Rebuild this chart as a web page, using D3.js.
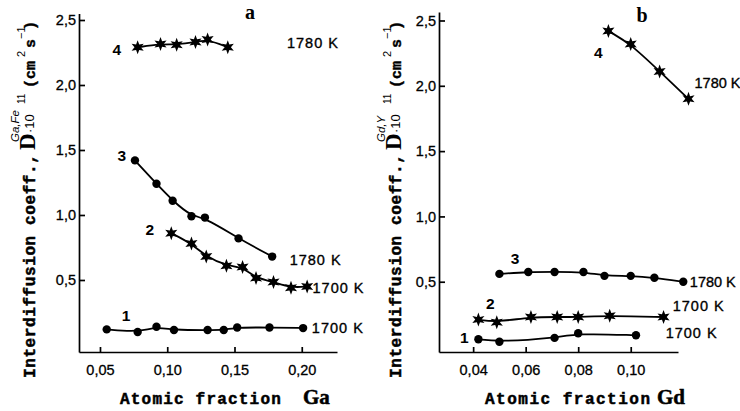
<!DOCTYPE html>
<html>
<head>
<meta charset="utf-8">
<script src="https://cdn.jsdelivr.net/npm/d3@7"></script>
<style>
  body { margin: 0; background: #fff; }
</style>
</head>
<body>
<div id="chart"></div>
<script>
// panel a: Ga in Fe (x = atomic fraction Ga)
const a1x = [0.055, 0.078, 0.092, 0.105, 0.130, 0.142, 0.152, 0.176, 0.201];
const a1y = [0.12, 0.10, 0.14, 0.115, 0.115, 0.115, 0.135, 0.135, 0.13];
const a2x = [0.103, 0.118, 0.129, 0.144, 0.156, 0.166, 0.179, 0.192, 0.204];
const a2y = [0.86, 0.78, 0.68, 0.61, 0.60, 0.515, 0.485, 0.44, 0.45];
const a3x = [0.076, 0.092, 0.104, 0.118, 0.128, 0.153, 0.178];
const a3y = [1.42, 1.24, 1.11, 0.99, 0.98, 0.82, 0.68];
const a4x = [0.078, 0.095, 0.107, 0.121, 0.130, 0.145];
const a4y = [2.29, 2.315, 2.31, 2.33, 2.35, 2.29];

// panel b: Gd in Y (x = atomic fraction Gd)
const b1x = [0.042, 0.050, 0.071, 0.080, 0.102];
const b1y = [0.06, 0.04, 0.07, 0.105, 0.09];
const b2x = [0.042, 0.049, 0.062, 0.072, 0.080, 0.092, 0.1125];
const b2y = [0.21, 0.19, 0.23, 0.23, 0.23, 0.24, 0.23];
const b3x = [0.050, 0.061, 0.071, 0.082, 0.090, 0.100, 0.109, 0.120];
const b3y = [0.56, 0.575, 0.575, 0.575, 0.545, 0.545, 0.53, 0.50];
const b4x = [0.0915, 0.100, 0.111, 0.122];
const b4y = [2.42, 2.32, 2.11, 1.90];

// tick values
const yTicks = [0.5, 1.0, 1.5, 2.0, 2.5];
const aTicks = [0.05, 0.10, 0.15, 0.20];
const bTicks = [0.04, 0.06, 0.08, 0.10];

const width = 740, height = 411;

const svg = d3.select("#chart").append("svg")
    .attr("width", width)
    .attr("height", height)
    .attr("viewBox", [0, 0, width, height]);

// 6-point star marker, size = outer radius
const star6 = {
  draw(ctx, R) {
    const r = R * 0.45;
    for (let i = 0; i < 12; i++) {
      const ang = i * Math.PI / 6 - Math.PI / 2;
      const rr = i % 2 ? r : R;
      const px = rr * Math.cos(ang), py = rr * Math.sin(ang);
      if (i === 0) ctx.moveTo(px, py); else ctx.lineTo(px, py);
    }
    ctx.closePath();
  }
};

const zip = (xs, ys) => xs.map((v, i) => [v, ys[i]]);
const fmt = f => d => d3.format(f)(d).replace(".", ",");

const panels = [
  {
    xDomain: [0.0344, 0.2262], xRange: [79, 337],
    yDomain: [-0.054, 2.55], yRange: [352, 13.5],
    xTicks: aTicks, xFmt: fmt(".2f"),
    titleX: 35, sup: "Ga,Fe", elem: "Ga", atomX: 120, elemX: 303, atomLs: 1.2,
    letter: "a", letterPos: [250, 19],
    series: [
      { pts: zip(a1x, a1y), mark: "circle", num: "1", numAt: [0.0693, 0.23], temp: "1700 K", tempAt: [0.2075, 0.13], ls: 1 },
      { pts: zip(a2x, a2y), mark: "star", num: "2", numAt: [0.0871, 0.885], temp: "1700 K", tempAt: [0.208, 0.44], ls: 1 },
      { pts: zip(a3x, a3y), mark: "circle", num: "3", numAt: [0.0663, 1.46], temp: "1780 K", tempAt: [0.191, 0.654], ls: 1 },
      { pts: zip(a4x, a4y), mark: "star", num: "4", numAt: [0.0626, 2.27], temp: "1780 K", tempAt: [0.189, 2.32], ls: 1 }
    ]
  },
  {
    xDomain: [0.027, 0.118], xRange: [439, 678],
    yDomain: [-0.038, 2.565], yRange: [352, 12],
    xTicks: bTicks, xFmt: fmt(".2f"),
    titleX: 401, sup: "Gd,Y", elem: "Gd", atomX: 485, elemX: 657, atomLs: 1.5,
    letter: "b", letterPos: [642, 22],
    series: [
      { pts: zip(b1x, b1y), mark: "circle", num: "1", numAt: [0.0366, 0.076], temp: "1700 K", tempAt: [0.1133, 0.107], ls: 1 },
      { pts: zip(b2x, b2y), mark: "star", num: "2", numAt: [0.0465, 0.336], temp: "1700 K", tempAt: [0.116, 0.313], ls: 1 },
      { pts: zip(b3x, b3y), mark: "circle", num: "3", numAt: [0.056, 0.68], temp: "1780 K", tempAt: [0.1225, 0.497], ls: 0 },
      { pts: zip(b4x, b4y), mark: "star", num: "4", numAt: [0.0877, 2.255], temp: "1780 K", tempAt: [0.1243, 2.02], ls: 0 }
    ]
  }
];

panels.forEach(p => {
  const x = d3.scaleLinear(p.xDomain, p.xRange);
  const y = d3.scaleLinear(p.yDomain, p.yRange);
  const g = svg.append("g");

  // axes, ticks pointing inward
  g.append("g")
      .attr("transform", `translate(0,${p.yRange[0]})`)
      .call(d3.axisBottom(x).tickValues(p.xTicks).tickFormat(p.xFmt)
          .tickSizeInner(-5).tickSizeOuter(0).tickPadding(13))
      .call(ax => ax.selectAll("text")
          .attr("font-family", "Liberation Sans").attr("font-size", 14.5)
          .attr("fill", "#000").attr("stroke", "#000").attr("stroke-width", 0.3));

  g.append("g")
      .attr("transform", `translate(${p.xRange[0]},0)`)
      .call(d3.axisLeft(y).tickValues(yTicks).tickFormat(fmt(".1f"))
          .tickSizeInner(-6).tickSizeOuter(0).tickPadding(3))
      .call(ax => ax.selectAll("text")
          .attr("font-family", "Liberation Sans").attr("font-size", 14.5)
          .attr("fill", "#000").attr("stroke", "#000").attr("stroke-width", 0.3));

  g.selectAll(".domain, .tick line").attr("stroke", "#000").attr("stroke-width", 1.7);

  // lines + markers
  const line = d3.line().x(d => x(d[0])).y(d => y(d[1])).curve(d3.curveBasis);
  p.series.forEach(s => {
    g.append("path")
        .attr("fill", "none")
        .attr("stroke", "#000")
        .attr("stroke-width", 1.8)
        .attr("d", line(s.pts));

    if (s.mark === "circle") {
      g.selectAll(null).data(s.pts).join("circle")
          .attr("cx", d => x(d[0])).attr("cy", d => y(d[1]))
          .attr("r", 4.2).attr("fill", "#000");
    } else {
      g.selectAll(null).data(s.pts).join("path")
          .attr("transform", d => `translate(${x(d[0])},${y(d[1])})`)
          .attr("d", d3.symbol().type(star6).size(7))
          .attr("fill", "#000");
    }

    g.append("text")
        .attr("x", x(s.numAt[0])).attr("y", y(s.numAt[1]))
        .attr("text-anchor", "middle").attr("dominant-baseline", "central")
        .attr("font-family", "Liberation Sans").attr("font-weight", "bold")
        .attr("font-size", 15.5).text(s.num);

    g.append("text")
        .attr("x", x(s.tempAt[0])).attr("y", y(s.tempAt[1]))
        .attr("dominant-baseline", "central")
        .attr("font-family", "Liberation Sans").attr("font-size", 14.5)
        .attr("stroke", "#000").attr("stroke-width", 0.35)
        .attr("letter-spacing", s.ls).text(s.temp);
  });

  // panel letter
  g.append("text")
      .attr("x", p.letterPos[0]).attr("y", p.letterPos[1])
      .attr("text-anchor", "middle")
      .attr("font-family", "Liberation Serif").attr("font-weight", "bold")
      .attr("font-size", 20).text(p.letter);

  // x axis title
  const xt = g.append("text").attr("y", 404).attr("stroke", "#000").attr("stroke-width", 0.5);
  xt.append("tspan").attr("x", p.atomX)
      .attr("font-family", "Liberation Mono").attr("font-weight", "bold")
      .attr("font-size", 16).attr("letter-spacing", p.atomLs)
      .text("Atomic fraction");
  xt.append("tspan").attr("x", p.elemX)
      .attr("font-family", "Liberation Serif").attr("font-weight", "bold")
      .attr("font-size", 21).text(p.elem);

  // y axis title (rotated)
  const yt = g.append("text").attr("transform", `translate(${p.titleX},378) rotate(-90)`);
  const part = (txt, px, py, fam, size, weight, style) => yt.append("tspan")
      .attr("x", px).attr("y", py).attr("font-family", fam).attr("font-size", size)
      .attr("font-weight", weight || "normal").attr("font-style", style || "normal").text(txt);
  part("Interdiffusion coeff.,", 0, 0, "Liberation Mono", 16, "bold")
      .attr("letter-spacing", 0.6).attr("stroke", "#000").attr("stroke-width", 0.5);
  part("D", 228, 0, "Liberation Serif", 23, "bold");
  part(p.sup, 236, -16, "Liberation Sans", 11.5, "normal", "italic");
  part("·10", 245, -1, "Liberation Sans", 13);
  part("11", 274, -10, "Liberation Sans", 10);
  part("(cm", 290, 0, "Liberation Mono", 15, "bold").attr("stroke", "#000").attr("stroke-width", 0.4);
  part("2", 321, -10, "Liberation Sans", 11);
  part("s", 330, 0, "Liberation Mono", 15, "bold").attr("stroke", "#000").attr("stroke-width", 0.4);
  part("−1", 339, -10, "Liberation Sans", 11);
  part(")", 348, 0, "Liberation Mono", 15, "bold").attr("stroke", "#000").attr("stroke-width", 0.4);
});
</script>
</body>
</html>
